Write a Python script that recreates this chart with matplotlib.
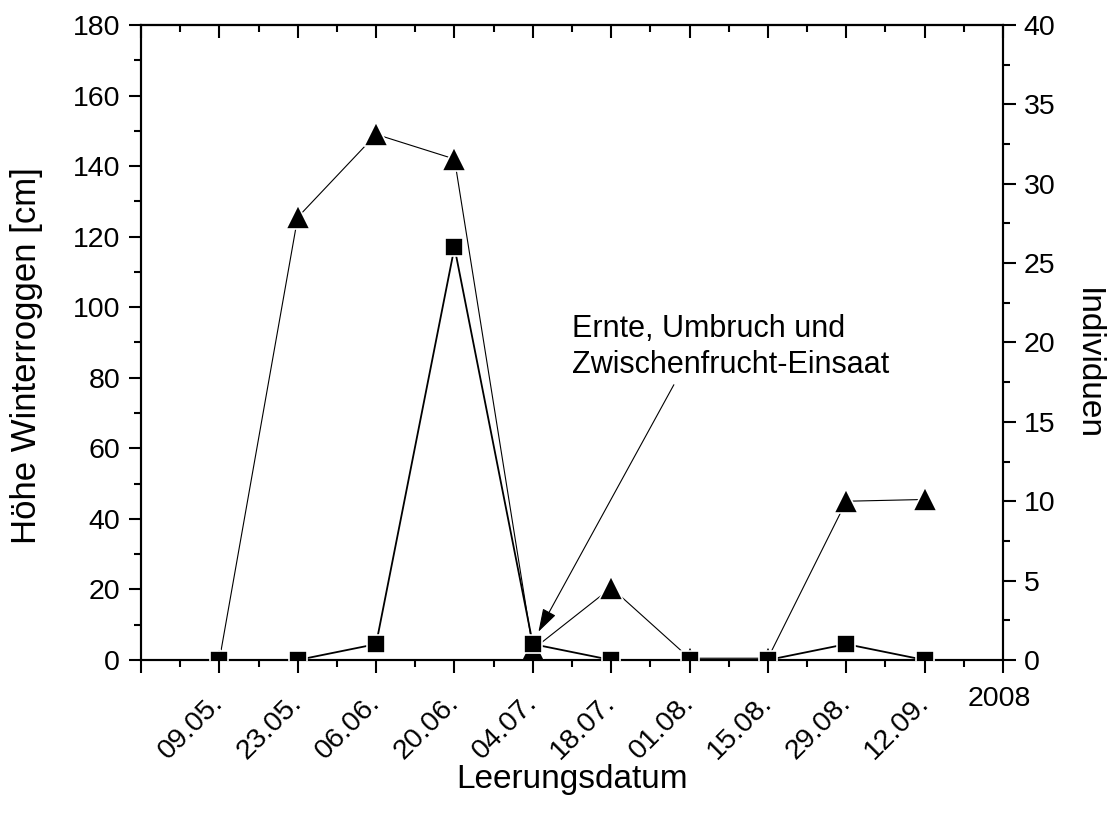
import matplotlib
matplotlib.use("Agg")
import matplotlib.pyplot as plt
import matplotlib.dates as mdates
from matplotlib.ticker import MultipleLocator
import datetime as dt

plt.rcParams['font.family'] = ['Liberation Sans', 'DejaVu Sans']
plt.rcParams['font.size'] = 20.5

# Leerungsdaten 2008
dates = ["09.05.", "23.05.", "06.06.", "20.06.", "04.07.",
         "18.07.", "01.08.", "15.08.", "29.08.", "12.09."]
hoehe = [0, 125.5, 149, 142, 3, 20.5, 0.5, 0.5, 45, 45.5]   # cm, Dreiecke
individuen = [0, 0, 1, 26, 1, 0, 0, 0, 1, 0]                # Quadrate

xd = [dt.date(2008, int(d[3:5]), int(d[0:2])) for d in dates]
start = dt.date(2008, 4, 25)
end = dt.date(2008, 9, 26)

fig = plt.figure(figsize=(11.13, 8.14), dpi=100)
ax = fig.add_axes([0.1267, 0.1892, 0.9012 - 0.1267, 0.9693 - 0.1892])

ax.plot(xd, hoehe, color='black', lw=0.8, zorder=2)
ax.plot(xd, hoehe, ls='none', marker='^', ms=17, mfc='black', mec='white',
        mew=1.2, zorder=3)
ax.set_ylim(0, 180)
ax.set_xlim(start, end)

ax2 = ax.twinx()
ax2.plot(xd, individuen, color='black', lw=1.3, zorder=2)
ax2.plot(xd, individuen, ls='none', marker='s', ms=13.5, mfc='black', mec='white',
         mew=1.2, zorder=3)
ax2.set_ylim(0, 40)

# x ticks
major = [start + dt.timedelta(days=14 * i) for i in range(12)]
minor = [start + dt.timedelta(days=7 + 14 * i) for i in range(11)]
ax.set_xticks(major)
ax.set_xticks(minor, minor=True)
ax.set_xticklabels([''] + dates + [''], rotation=45, ha='right', va='center',
                   rotation_mode='anchor')
ax.tick_params(axis='x', which='major', length=9, width=1.5, pad=19)
ax.tick_params(axis='x', which='minor', length=5, width=1.5)

top = ax.secondary_xaxis('top')
top.set_xticks(major)
top.set_xticks(minor, minor=True)
top.tick_params(axis='x', which='major', direction='in', length=9, width=1.5,
                labeltop=False)
top.tick_params(axis='x', which='minor', direction='in', length=5, width=1.5)
top.spines['top'].set_linewidth(1.5)

ax.yaxis.set_major_locator(MultipleLocator(20))
ax.yaxis.set_minor_locator(MultipleLocator(10))
ax.tick_params(axis='y', which='major', length=9, width=1.5, pad=6)
ax.tick_params(axis='y', which='minor', length=5, width=1.5)

ax2.yaxis.set_major_locator(MultipleLocator(5))
ax2.yaxis.set_minor_locator(MultipleLocator(2.5))
ax2.tick_params(axis='y', which='major', length=9, width=1.5, pad=6)
ax2.tick_params(axis='y', which='minor', length=5, width=1.5)

for a in (ax, ax2):
    for s in a.spines.values():
        s.set_linewidth(1.5)

ax.text(mdates.date2num(end) - 0.7, -0.062, "2008", transform=ax.get_xaxis_transform(),
        ha='center', va='center')

ax.set_ylabel("Höhe Winterroggen [cm]", fontsize=25, va='center')
ax.yaxis.set_label_coords(-0.1323, 0.479)
ax2.set_ylabel("Individuen", fontsize=24, rotation=270, va='center')
ax2.yaxis.set_label_coords(1.098, 0.466)
ax.set_xlabel("Leerungsdatum", fontsize=24, labelpad=0)

ax.annotate("Ernte, Umbruch und\nZwischenfrucht-Einsaat",
            xy=(dt.date(2008, 7, 5), 8), xytext=(dt.date(2008, 7, 11), 79.5),
            ha='left', va='bottom', linespacing=1.25, fontsize=22,
            arrowprops=dict(arrowstyle='-|>,head_length=0.8,head_width=0.25',
                            color='black', lw=0.8, mutation_scale=18,
                            shrinkA=2, shrinkB=0, relpos=(0.33, 0)),
            zorder=5)

fig.savefig("out.png", dpi=100)
